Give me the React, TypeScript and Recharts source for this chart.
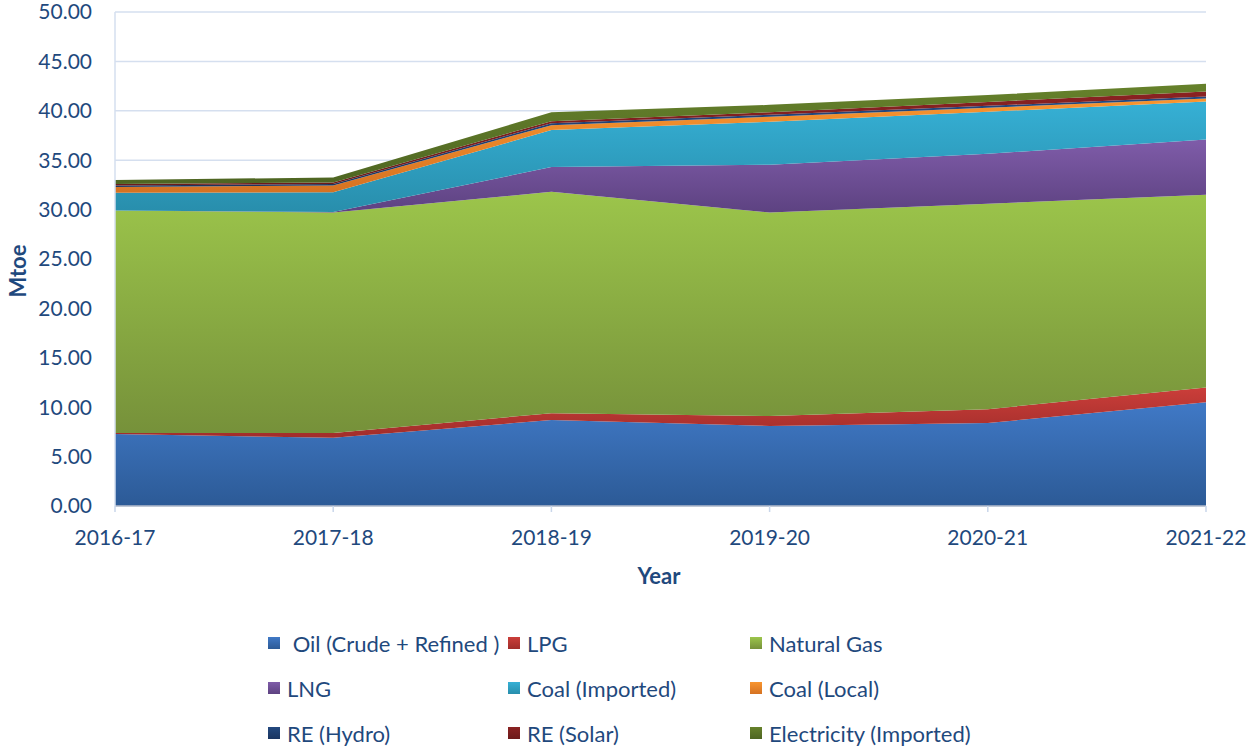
import React from 'react';
import { AreaChart, Area, XAxis, YAxis, CartesianGrid } from 'recharts';

const years = ['2016-17', '2017-18', '2018-19', '2019-20', '2020-21', '2021-22'];
const oil = [7.3, 6.9, 8.7, 8.1, 8.4, 10.5];
const lpg = [0.1, 0.5, 0.7, 1.0, 1.4, 1.5];
const naturalGas = [22.5, 22.3, 22.4, 20.6, 20.8, 19.5];
const lng = [0, 0.05, 2.5, 4.85, 5.05, 5.6];
const coalImported = [1.8, 2.0, 3.75, 4.35, 4.25, 3.85];
const coalLocal = [0.6, 0.7, 0.5, 0.5, 0.4, 0.3];
const reHydro = [0.15, 0.15, 0.2, 0.2, 0.2, 0.2];
const reSolar = [0.15, 0.15, 0.2, 0.25, 0.4, 0.5];
const electricity = [0.4, 0.5, 0.9, 0.75, 0.7, 0.8];
const yTicks = [0, 5, 10, 15, 20, 25, 30, 35, 40, 45, 50];

const series = [
  { key: 'oil', name: ' Oil (Crude + Refined )', values: oil, top: '#4079C6', bottom: '#2C5A96' },
  { key: 'lpg', name: 'LPG', values: lpg, top: '#CB3E3A', bottom: '#A12D2A' },
  { key: 'ng', name: 'Natural Gas', values: naturalGas, top: '#9CC54B', bottom: '#76913A' },
  { key: 'lng', name: 'LNG', values: lng, top: '#7F5CA9', bottom: '#5D4281' },
  { key: 'ci', name: 'Coal (Imported)', values: coalImported, top: '#36B0D5', bottom: '#288EAC' },
  { key: 'cl', name: 'Coal (Local)', values: coalLocal, top: '#F8952F', bottom: '#D57222' },
  { key: 'rh', name: 'RE (Hydro)', values: reHydro, top: '#24497F', bottom: '#1A3560' },
  { key: 'rs', name: 'RE (Solar)', values: reSolar, top: '#8A2222', bottom: '#6C1A1A' },
  { key: 'el', name: 'Electricity (Imported)', values: electricity, top: '#66812B', bottom: '#4E6522' },
];

const data = years.map((y, i) => {
  const row: Record<string, string | number> = { year: y };
  series.forEach((s) => {
    row[s.key] = s.values[i];
  });
  return row;
});

const TEXT = '#1F497D';
const FONT = 'Lato, "Open Sans", sans-serif';

const legendPos = [
  { left: 268, top: 643 },
  { left: 508, top: 643 },
  { left: 750, top: 643 },
  { left: 268, top: 688 },
  { left: 508, top: 688 },
  { left: 750, top: 688 },
  { left: 268, top: 733 },
  { left: 508, top: 733 },
  { left: 750, top: 733 },
];

export default function App() {
  return (
    <div style={{ position: 'absolute', left: 0, top: 0, width: 1247, height: 748, background: '#fff', fontFamily: FONT }}>
      <AreaChart
        width={1247}
        height={748}
        data={data}
        margin={{ top: 12, right: 41, bottom: 162, left: 0 }}
      >
        <defs>
          {series.map((s) => (
            <linearGradient key={s.key} id={'g-' + s.key} x1="0" y1="0" x2="0" y2="1">
              <stop offset="0%" stopColor={s.top} />
              <stop offset="100%" stopColor={s.bottom} />
            </linearGradient>
          ))}
        </defs>
        <CartesianGrid vertical={false} stroke="#D5DFEF" strokeWidth={1.5} />
        <XAxis
          dataKey="year"
          height={80}
          tickSize={6}
          tickMargin={18}
          axisLine={{ stroke: '#B4BDCB', strokeWidth: 1.5 }}
          tickLine={{ stroke: '#C9D6EA', strokeWidth: 1.5 }}
          tick={{ fill: TEXT, fontSize: 21, fontFamily: FONT }}
          interval={0}
        />
        <YAxis
          width={115}
          domain={[0, 50]}
          ticks={yTicks}
          tickFormatter={(v: number) => v.toFixed(2)}
          tickSize={0}
          tickMargin={23}
          axisLine={{ stroke: '#D5DFEF', strokeWidth: 1.5 }}
          tickLine={false}
          tick={{ fill: TEXT, fontSize: 21, fontFamily: FONT }}
          interval={0}
        />
        {series.map((s) => (
          <Area
            key={s.key}
            type="linear"
            dataKey={s.key}
            name={s.name}
            stackId="1"
            stroke="none"
            fill={'url(#g-' + s.key + ')'}
            fillOpacity={1}
            isAnimationActive={false}
          />
        ))}
        <text
          x={659}
          y={575}
          textAnchor="middle"
          dominantBaseline="central"
          fill={TEXT}
          fontSize={22}
          fontWeight="bold"
          fontFamily={FONT}
        >
          Year
        </text>
        <text
          x={17}
          y={271}
          transform="rotate(-90 17 271)"
          textAnchor="middle"
          dominantBaseline="central"
          fill={TEXT}
          fontSize={22}
          fontWeight="bold"
          fontFamily={FONT}
        >
          Mtoe
        </text>
      </AreaChart>
      {series.map((s, i) => (
        <div
          key={s.key}
          style={{
            position: 'absolute',
            left: legendPos[i].left,
            top: legendPos[i].top - 15,
            height: 30,
            display: 'flex',
            alignItems: 'center',
            whiteSpace: 'pre',
            color: TEXT,
            fontSize: 22,
            fontFamily: FONT,
          }}
        >
          <span
            style={{
              display: 'inline-block',
              width: 12,
              height: 12,
              marginRight: 7,
              background: `linear-gradient(${s.top}, ${s.bottom})`,
            }}
          />
          <span>{s.name}</span>
        </div>
      ))}
    </div>
  );
}
